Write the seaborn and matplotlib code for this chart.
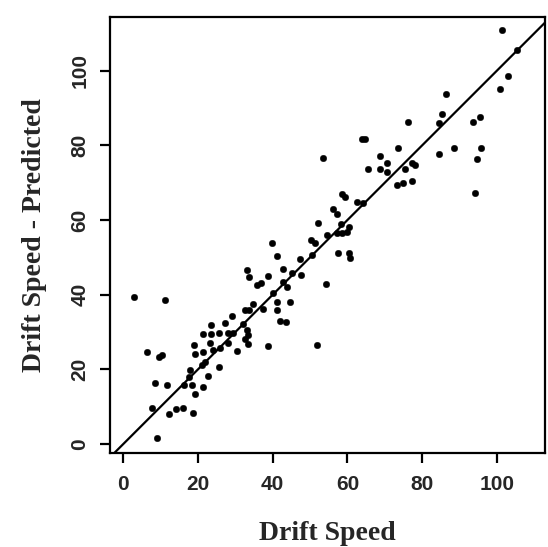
import matplotlib
matplotlib.use("Agg")
import matplotlib.pyplot as plt
import seaborn as sns
import pandas as pd

drift_speed = [
    101.3, 105.5, 103.0, 100.8, 86.3, 85.4, 84.5, 76.2, 93.5, 95.5,
    63.8, 64.6, 73.6, 88.6, 95.8, 84.4, 94.6, 68.6, 70.7, 68.6,
    65.6, 77.2, 78.0, 75.3, 70.7, 73.2, 74.8, 77.2, 94.1, 53.4,
    58.5, 59.4, 62.5, 64.3, 56.2, 57.1, 52.2, 58.2, 60.3, 59.8,
    57.1, 58.5, 54.5, 50.2, 51.3, 39.9, 41.1, 50.4, 47.3, 57.6,
    60.5, 60.7, 42.7, 45.1, 47.5, 54.3, 33.0, 33.7, 35.7, 36.9,
    38.7, 42.7, 43.8, 40.2, 41.1, 44.6, 41.2, 42.0, 43.6, 34.7,
    32.6, 33.7, 37.3, 29.0, 51.8, 38.8, 23.5, 27.2, 21.4, 23.4,
    25.5, 29.3, 32.0, 33.0, 33.3, 32.6, 33.5, 28.0, 30.5, 18.9,
    23.2, 21.4, 19.2, 24.1, 25.9, 21.9, 21.0, 25.7, 17.9, 17.7,
    18.3, 16.3, 22.8, 21.3, 19.2, 18.7, 16.1, 14.1, 12.3, 11.6,
    8.6, 7.6, 9.1, 6.3, 9.6, 10.3, 2.9, 11.2, 28.1,
]
predicted = [
    110.9, 105.5, 98.6, 95.0, 93.8, 88.4, 86.1, 86.3, 86.3, 87.5,
    81.7, 81.7, 79.2, 79.2, 79.2, 77.7, 76.4, 77.1, 75.2, 73.8,
    73.6, 75.4, 74.8, 73.6, 72.9, 69.4, 70.0, 70.5, 67.3, 76.7,
    67.0, 66.3, 64.9, 64.5, 62.9, 61.5, 59.1, 58.9, 58.2, 56.9,
    56.4, 56.4, 56.0, 54.6, 53.9, 53.9, 50.4, 50.6, 49.5, 51.3,
    51.3, 49.7, 46.8, 45.9, 45.3, 42.9, 46.6, 44.8, 42.6, 43.2,
    45.0, 43.5, 42.1, 40.4, 38.1, 38.1, 35.9, 33.0, 32.8, 37.4,
    35.9, 35.9, 36.1, 34.4, 26.5, 26.3, 31.9, 32.3, 29.6, 29.4,
    29.8, 29.8, 32.1, 30.5, 29.2, 28.0, 26.7, 27.1, 24.9, 26.5,
    27.0, 24.7, 24.0, 25.2, 25.6, 22.1, 21.2, 20.5, 19.8, 18.0,
    15.8, 15.8, 18.2, 15.4, 13.3, 8.4, 9.7, 9.3, 8.0, 15.8,
    16.3, 9.6, 1.7, 24.7, 23.4, 23.8, 39.3, 38.6, 29.8,
]
x_ticks = [0, 20, 40, 60, 80, 100]
y_ticks = [0, 20, 40, 60, 80, 100]

df = pd.DataFrame({"Drift Speed": drift_speed, "Predicted": predicted})

sns.set_style("ticks")
plt.rcParams["font.family"] = ["Liberation Sans", "DejaVu Sans"]

fig = plt.figure(figsize=(5.48, 5.47), dpi=100)
ax = fig.add_axes([110 / 548, 1 - 453 / 547, 435 / 548, 436 / 547])

sns.scatterplot(data=df, x="Drift Speed", y="Predicted", ax=ax,
                color="black", s=22, edgecolor="black", linewidth=0.3,
                legend=False, zorder=3)
ax.axline((0, 0), slope=1, color="black", lw=1.6, zorder=2)

ax.set_xlim(-3.56, 112.9)
ax.set_ylim(-2.41, 114.4)
ax.set_xticks(x_ticks)
ax.set_yticks(y_ticks)
ax.set_xticklabels([str(t) for t in x_ticks], fontsize=15, fontweight="bold")
ax.set_yticklabels([str(t) for t in y_ticks], fontsize=15, fontweight="bold",
                   rotation=90, va="center")
ax.tick_params(axis="both", length=7, width=1.6, color="black", direction="out")
ax.tick_params(axis="x", pad=9)
ax.tick_params(axis="y", pad=8)
for sp in ax.spines.values():
    sp.set_visible(True)
    sp.set_linewidth(1.6)
    sp.set_color("black")

ax.set_xlabel("Drift Speed", fontsize=20, fontweight="bold",
              family=["Liberation Serif", "DejaVu Serif"], labelpad=19)
ax.set_ylabel("Drift Speed - Predicted", fontsize=20, fontweight="bold",
              family=["Liberation Serif", "DejaVu Serif"], labelpad=17)

fig.savefig("out.png", dpi=100, facecolor="white")
